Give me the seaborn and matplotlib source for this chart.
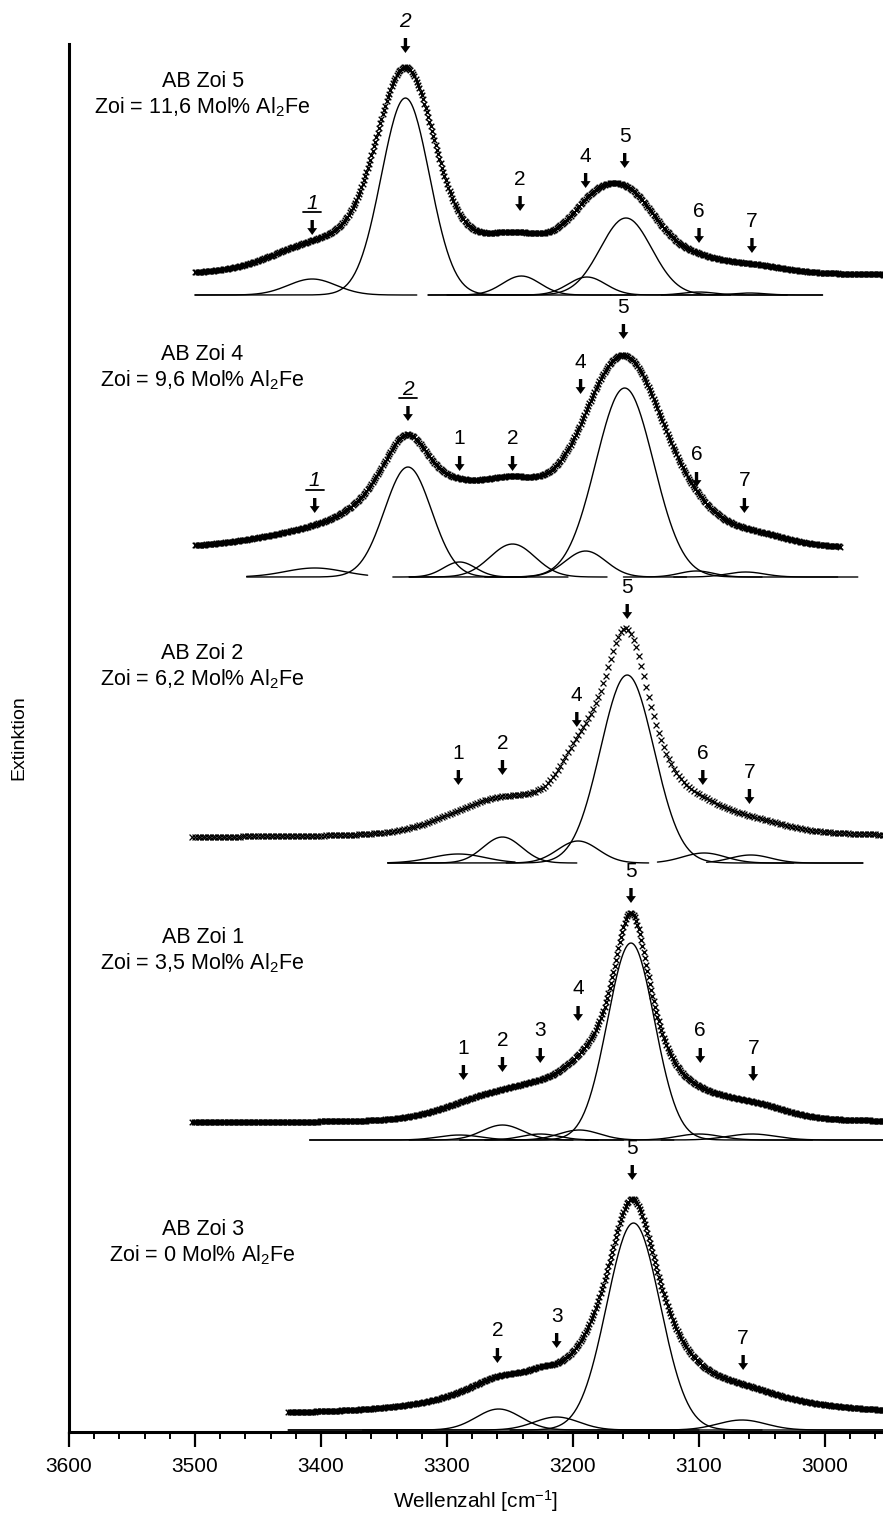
import numpy as np
import pandas as pd
import matplotlib
matplotlib.use("Agg")
import matplotlib.pyplot as plt
from matplotlib.ticker import MultipleLocator
import seaborn as sns

# ------------------------------------------------------------------
# Samples (top to bottom) and their vertical offsets (arb. units)
# ------------------------------------------------------------------
SAMPLES = ["AB Zoi 5", "AB Zoi 4", "AB Zoi 2", "AB Zoi 1", "AB Zoi 3"]
ZOI_MOL = ["11,6", "9,6", "6,2", "3,5", "0"]
TRACE_OFFSET = [1137, 855, 569, 292, 2]
TRACE_START = [3500, 3500, 3502, 3502, 3426]      # cm-1
TRACE_END = [2950, 2988, 2950, 2950, 2950]        # cm-1
TRACE_BACKGROUND = [18, 26, 25, 17, 14]
TRACE_STEP = [1, 1, 2, 1, 1]
TITLE_HEIGHT = [208, 217, 204, 197, 195]          # above offset

# ---------------- AB Zoi 5 ----------------
Z5_COMP_POS = [3407, 3333, 3241, 3189, 3158, 3100, 3060]
Z5_COMP_AMP = [16, 197, 19, 18, 77, 3, 2]
Z5_COMP_FWHM = [45, 45, 35, 35, 48, 30, 30]
Z5_COMP_FROM = [3500, 3500, 3315, 3300, 3315, 3170, 3130]
Z5_COMP_TO = [3324, 3170, 3150, 3075, 3002, 3030, 3002]
Z5_ENV_POS = [3405, 3333, 3333, 3245, 3190, 3160, 3160, 3100, 3060]
Z5_ENV_AMP = [20, 150, 55, 26, 20, 62, 22, 5, 6]
Z5_ENV_FWHM = [80, 52, 90, 70, 40, 60, 120, 40, 60]
Z5_ENV_SHAPE = ["G", "G", "L", "G", "G", "G", "L", "G", "G"]
Z5_MARK = ["1", "2", "2", "4", "5", "6", "7"]
Z5_MARK_POS = [3407, 3333, 3242, 3190, 3159, 3100, 3058]
Z5_MARK_TIP = [60, 242, 84, 107, 127, 52, 42]
Z5_MARK_ITALIC = [True, True, False, False, False, False, False]

# ---------------- AB Zoi 4 ----------------
Z4_COMP_POS = [3405, 3331, 3290, 3248, 3190, 3159, 3102, 3063]
Z4_COMP_AMP = [9, 110, 15, 33, 26, 189, 6, 5]
Z4_COMP_FWHM = [55, 44, 30, 42, 38, 54, 32, 35]
Z4_COMP_FROM = [3459, 3459, 3343, 3330, 3270, 3330, 3160, 3120]
Z4_COMP_TO = [3363, 3204, 3237, 3173, 3110, 2990, 3050, 2974]
Z4_ENV_POS = [3400, 3332, 3292, 3250, 3160, 3160, 3102, 3064]
Z4_ENV_AMP = [9, 108, 10, 50, 172, 20, 8, 12]
Z4_ENV_FWHM = [120, 60, 40, 70, 75, 150, 40, 70]
Z4_ENV_SHAPE = ["G", "L", "G", "G", "G", "L", "G", "G"]
Z4_MARK = ["1", "2", "1", "2", "4", "5", "6", "7"]
Z4_MARK_POS = [3405, 3331, 3290, 3248, 3194, 3160, 3102, 3064]
Z4_MARK_TIP = [64, 156, 106, 106, 183, 238, 90, 64]
Z4_MARK_ITALIC = [True, True, False, False, False, False, False, False]

# ---------------- AB Zoi 2 ----------------
Z2_COMP_POS = [3291, 3256, 3196, 3157, 3096, 3059]
Z2_COMP_AMP = [9, 26, 22, 188, 10, 8]
Z2_COMP_FWHM = [50, 36, 38, 50, 40, 38]
Z2_COMP_FROM = [3347, 3347, 3253, 3347, 3133, 3094]
Z2_COMP_TO = [3246, 3197, 3140, 2970, 3025, 2970]
Z2_ENV_POS = [3260, 3196, 3158, 3096, 3059]
Z2_ENV_AMP = [28, 30, 208, 7, 8]
Z2_ENV_FWHM = [90, 34, 52, 40, 60]
Z2_ENV_SHAPE = ["G", "G", "L", "G", "G"]
Z2_MARK = ["1", "2", "4", "5", "6", "7"]
Z2_MARK_POS = [3291, 3256, 3197, 3157, 3097, 3060]
Z2_MARK_TIP = [78, 88, 136, 244, 78, 59]
Z2_MARK_ITALIC = [False] * 6

# ---------------- AB Zoi 1 ----------------
Z1_COMP_POS = [3290, 3256, 3226, 3195, 3154, 3100, 3058]
Z1_COMP_AMP = [5, 15, 6, 10, 197, 6, 6]
Z1_COMP_FWHM = [40, 38, 35, 38, 44, 40, 45]
Z1_COMP_FROM = [3409, 3330, 3290, 3270, 3409, 3190, 3130]
Z1_COMP_TO = [3200, 3180, 3160, 3120, 2954, 3010, 2954]
Z1_ENV_POS = [3255, 3226, 3194, 3154, 3099, 3057]
Z1_ENV_AMP = [24, 6, 18, 208, 7, 11]
Z1_ENV_FWHM = [90, 40, 40, 42, 50, 60]
Z1_ENV_SHAPE = ["G", "G", "G", "L", "G", "G"]
Z1_MARK = ["1", "2", "3", "4", "5", "6", "7"]
Z1_MARK_POS = [3287, 3256, 3226, 3196, 3154, 3099, 3057]
Z1_MARK_TIP = [60, 68, 77, 119, 237, 77, 59]
Z1_MARK_ITALIC = [False] * 7

# ---------------- AB Zoi 3 ----------------
Z3_COMP_POS = [3259, 3213, 3152, 3066]
Z3_COMP_AMP = [21, 13, 207, 10]
Z3_COMP_FWHM = [42, 42, 50, 45]
Z3_COMP_FROM = [3426, 3367, 3426, 3250]
Z3_COMP_TO = [3100, 3050, 2954, 2954]
Z3_ENV_POS = [3258, 3225, 3153, 3064]
Z3_ENV_AMP = [25, 7, 211, 12]
Z3_ENV_FWHM = [80, 30, 55, 90]
Z3_ENV_SHAPE = ["L", "L", "L", "L"]
Z3_MARK = ["2", "3", "5", "7"]
Z3_MARK_POS = [3260, 3213, 3153, 3065]
Z3_MARK_TIP = [67, 82, 250, 60]
Z3_MARK_ITALIC = [False] * 4

COMPONENTS = [
    (Z5_COMP_POS, Z5_COMP_AMP, Z5_COMP_FWHM, Z5_COMP_FROM, Z5_COMP_TO),
    (Z4_COMP_POS, Z4_COMP_AMP, Z4_COMP_FWHM, Z4_COMP_FROM, Z4_COMP_TO),
    (Z2_COMP_POS, Z2_COMP_AMP, Z2_COMP_FWHM, Z2_COMP_FROM, Z2_COMP_TO),
    (Z1_COMP_POS, Z1_COMP_AMP, Z1_COMP_FWHM, Z1_COMP_FROM, Z1_COMP_TO),
    (Z3_COMP_POS, Z3_COMP_AMP, Z3_COMP_FWHM, Z3_COMP_FROM, Z3_COMP_TO),
]
ENVELOPES = [
    (Z5_ENV_POS, Z5_ENV_AMP, Z5_ENV_FWHM, Z5_ENV_SHAPE),
    (Z4_ENV_POS, Z4_ENV_AMP, Z4_ENV_FWHM, Z4_ENV_SHAPE),
    (Z2_ENV_POS, Z2_ENV_AMP, Z2_ENV_FWHM, Z2_ENV_SHAPE),
    (Z1_ENV_POS, Z1_ENV_AMP, Z1_ENV_FWHM, Z1_ENV_SHAPE),
    (Z3_ENV_POS, Z3_ENV_AMP, Z3_ENV_FWHM, Z3_ENV_SHAPE),
]
MARKS = [
    (Z5_MARK, Z5_MARK_POS, Z5_MARK_TIP, Z5_MARK_ITALIC),
    (Z4_MARK, Z4_MARK_POS, Z4_MARK_TIP, Z4_MARK_ITALIC),
    (Z2_MARK, Z2_MARK_POS, Z2_MARK_TIP, Z2_MARK_ITALIC),
    (Z1_MARK, Z1_MARK_POS, Z1_MARK_TIP, Z1_MARK_ITALIC),
    (Z3_MARK, Z3_MARK_POS, Z3_MARK_TIP, Z3_MARK_ITALIC),
]


def gauss(x, pos, amp, fwhm):
    return amp * np.exp(-4.0 * np.log(2.0) * ((x - pos) / fwhm) ** 2)


def lorentz(x, pos, amp, fwhm):
    return amp / (1.0 + 4.0 * ((x - pos) / fwhm) ** 2)


def band(x, pos, amp, fwhm, shape):
    return gauss(x, pos, amp, fwhm) if shape == "G" else lorentz(x, pos, amp, fwhm)


# ------------------------------------------------------------------
# Figure
# ------------------------------------------------------------------
sns.set_style("white")
plt.rcParams.update({
    "font.family": ["Liberation Sans", "DejaVu Sans"],
    "mathtext.fontset": "custom",
    "mathtext.rm": "Liberation Sans",
    "mathtext.it": "Liberation Sans:italic",
    "mathtext.bf": "Liberation Sans:bold",
    "axes.edgecolor": "black",
    "text.color": "black",
    "axes.labelcolor": "black",
    "xtick.color": "black",
})

W, H = 883, 1517
fig = plt.figure(figsize=(W / 100, H / 100), dpi=100)
ax = fig.add_axes([69 / W, 1 - 1432 / H, 1 - 69 / W, (1432 - 44) / H])

for i, name in enumerate(SAMPLES):
    off = TRACE_OFFSET[i]

    # measured trace
    wn = np.arange(TRACE_START[i], TRACE_END[i] - 0.5, -TRACE_STEP[i], dtype=float)
    pos, amp, fwhm, shape = ENVELOPES[i]
    ext = np.full_like(wn, TRACE_BACKGROUND[i], dtype=float)
    for p, a, f, s in zip(pos, amp, fwhm, shape):
        ext += band(wn, p, a, f, s)
    trace = pd.DataFrame({"wn": wn, "ext": ext + off})
    sparse = TRACE_STEP[i] > 1
    sns.scatterplot(data=trace, x="wn", y="ext", marker="x",
                    s=18 if sparse else 16, color="black",
                    linewidth=0.9 if sparse else 1.0, ax=ax, legend=False)

    # fitted components
    cpos, camp, cfwhm, cfrom, cto = COMPONENTS[i]
    for p, a, f, lo, hi in zip(cpos, camp, cfwhm, cfrom, cto):
        x = np.arange(lo, hi - 0.5, -1.0)
        comp = pd.DataFrame({"wn": x, "ext": gauss(x, p, a, f) + off})
        sns.lineplot(data=comp, x="wn", y="ext", color="black", lw=1.0,
                     estimator=None, sort=False, ax=ax, legend=False)

    # sample caption
    ax.text(3494, off + TITLE_HEIGHT[i], name, ha="center", va="baseline",
            fontsize=15.5)
    ax.text(3494, off + TITLE_HEIGHT[i] - 26,
            f"Zoi = {ZOI_MOL[i]} Mol% Al$_2$Fe", ha="center", va="baseline",
            fontsize=15.5)

    # band assignment arrows
    labels, mpos, mtip, mital = MARKS[i]
    for lab, p, t, it in zip(labels, mpos, mtip, mital):
        tip = off + t
        ax.annotate("", xy=(p, tip), xytext=(p, tip + 15),
                    arrowprops=dict(
                        arrowstyle="simple,head_length=0.45,head_width=0.65,tail_width=0.22",
                        mutation_scale=11, fc="black", ec="black", lw=0,
                        shrinkA=0, shrinkB=0))
        ax.text(p, tip + 32, lab, ha="center", va="center", fontsize=15,
                style="italic" if it else "normal")
        if it:
            ax.plot([p + 7, p - 7], [tip + 23, tip + 23], color="black", lw=1.3)

# axes styling
ax.set_xlim(3600, 2954)
ax.set_ylim(0, 1388)
ax.set_yticks([])
ax.xaxis.set_major_locator(MultipleLocator(100))
ax.xaxis.set_minor_locator(MultipleLocator(20))
ax.tick_params(axis="x", which="major", direction="out", length=11, width=1.6,
               labelsize=15, pad=7, bottom=True)
ax.tick_params(axis="x", which="minor", direction="out", length=5, width=1.4,
               bottom=True)
for side in ("top", "right"):
    ax.spines[side].set_visible(False)
for side in ("left", "bottom"):
    ax.spines[side].set_linewidth(2.2)
    ax.spines[side].set_color("black")

ax.set_xlabel("Wellenzahl [cm$^{-1}$]", fontsize=15, labelpad=9)
ax.set_ylabel("Extinktion", fontsize=14, labelpad=30)

fig.savefig("out.png", dpi=100)
